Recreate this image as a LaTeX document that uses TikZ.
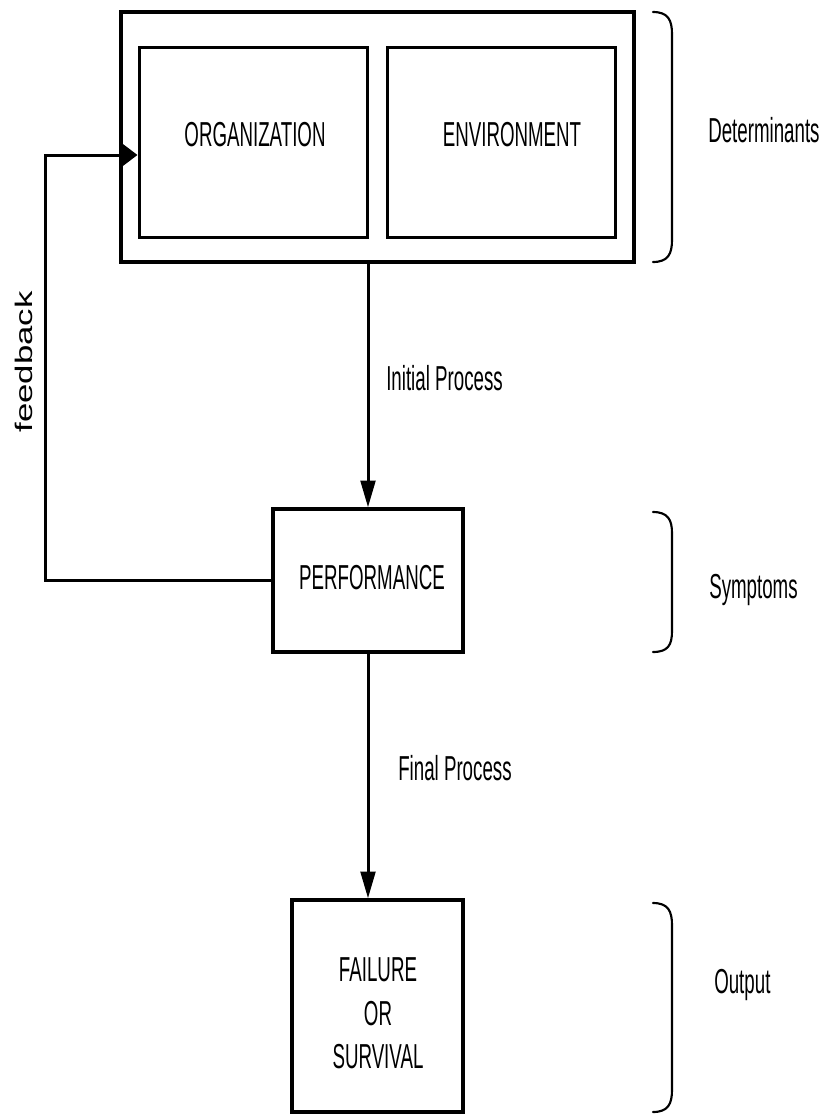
\documentclass[tikz,border=0pt]{standalone}
\usepackage{fontspec}
\setmainfont{Liberation Sans}
\newfontfamily\narrowsans[FakeStretch=0.54]{Liberation Sans}
\newfontfamily\widesans[FakeStretch=1.45]{Liberation Sans}
\usetikzlibrary{arrows.meta}
\begin{document}
\begin{tikzpicture}[x=0.75pt,y=-0.75pt,
  lbl/.style={inner sep=0pt,font=\narrowsans\fontsize{26}{32.6}\selectfont,text=black},
  box/.style={draw=black,fill=white,inner sep=0pt,align=center,font=\narrowsans\fontsize{26}{32.6}\selectfont},
  conn/.style={draw=black,line width=2.25pt},
  vtip/.style={-{Triangle[length=20pt,width=11pt]}},
  htip/.style={-{Triangle[length=11pt,width=16pt]}},
  brace/.style={draw=black,line width=1.6pt,line cap=round}]
\useasboundingbox (0,0) rectangle (825,1114);
% boxes
\node[box,line width=3pt,minimum width=384.75pt,minimum height=187.5pt] (outer) at (377.5,137) {};
\node[box,line width=2.25pt,minimum width=171pt,minimum height=142.5pt] (org) at (253,142) {};
\node[box,line width=2.25pt,minimum width=171pt,minimum height=142.5pt] (env) at (501,142) {};
\node[lbl] (orgtxt) at (255,135) {ORGANIZATION};
\node[lbl] (envtxt) at (512,135) {ENVIRONMENT};
\node[box,line width=2.5pt,minimum width=142.5pt,minimum height=107.25pt] (perf) at (368,580.5) {};
\node[lbl] (perftxt) at (372,578) {PERFORMANCE};
\node[box,line width=2.5pt,minimum width=128.25pt,minimum height=159pt] (fail) at (377.5,1006) {};
\node[lbl,align=center] (failtxt) at (378,1013.5) {FAILURE\\OR\\SURVIVAL};
% labels
\node[lbl,anchor=west] (initial) at (386,378) {Initial Process};
\node[lbl,anchor=west] (final) at (398,768) {Final Process};
\node[lbl,anchor=west] (det) at (708,130) {Determinants};
\node[lbl,anchor=west] (sym) at (709,590) {Symptoms};
\node[lbl,anchor=west] (out) at (714,985) {Output};
\node[inner sep=0pt,rotate=90,font=\widesans\fontsize{18}{20}\selectfont] (fbtxt) at (24,362) {feedback};
% connectors
\coordinate (fbx) at (45,155);
\draw[conn,vtip] (outer.south -| perf.north) -- (perf.north);
\draw[conn,vtip] (perf.south) -- (perf.south |- fail.north);
\draw[conn,htip] (perf.west) -| (fbx) -- ([yshift=-9.75pt]org.west);
% braces
\draw[brace] (653,12) .. controls (668,12) and (672,20) .. (672,34) -- (672,240) .. controls (672,254) and (668,262) .. (653,262);
\draw[brace] (653,512) .. controls (668,512) and (672,520) .. (672,533) -- (672,631) .. controls (672,645) and (668,652) .. (653,652);
\draw[brace] (653,903) .. controls (668,903) and (672,911) .. (672,925) -- (672,1090) .. controls (672,1104) and (668,1112) .. (653,1112);
\end{tikzpicture}
\end{document}
